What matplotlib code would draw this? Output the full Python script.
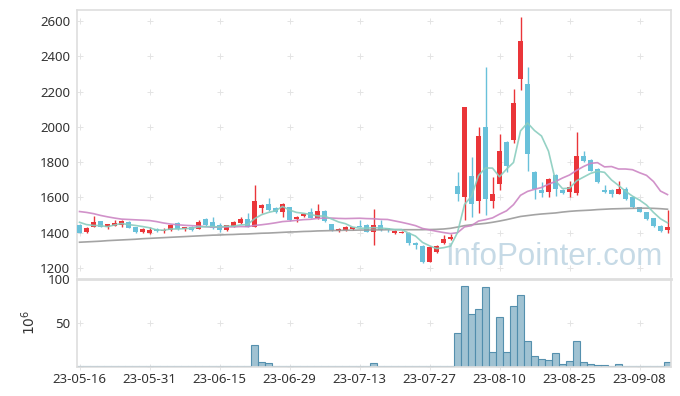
import matplotlib.pyplot as plt
import numpy as np

# x tick labels, one every 10 trading days
tick_labels = ["23-05-16", "23-05-31", "23-06-15", "23-06-29", "23-07-13",
               "23-07-27", "23-08-10", "23-08-25", "23-09-08"]

# daily OHLC (85 trading days)
opens = [1444, 1406, 1434, 1465, 1434, 1440, 1444, 1461, 1432, 1406,
         1398, 1419, 1410, 1413, 1453, 1421, 1432, 1423, 1478, 1461,
         1442, 1417, 1434, 1453, 1478, 1434, 1542, 1563, 1540, 1520,
         1544, 1480, 1495, 1517, 1485, 1523, 1449, 1408, 1413, 1421,
         1438, 1444, 1406, 1444, 1425, 1398, 1398, 1400, 1344, 1326,
         1236, 1289, 1340, 1364, 1662, 1601, 1722, 1582, 1998, 1577,
         1674, 1914, 1923, 2271, 2243, 1744, 1640, 1629, 1727, 1642,
         1630, 1627, 1835, 1812, 1760, 1644, 1642, 1622, 1650, 1605,
         1545, 1515, 1482, 1440, 1413]
highs = [1452, 1432, 1497, 1468, 1450, 1470, 1472, 1464, 1434, 1425,
         1432, 1425, 1425, 1446, 1458, 1434, 1436, 1472, 1482, 1489,
         1453, 1446, 1465, 1489, 1512, 1671, 1565, 1597, 1548, 1566,
         1548, 1495, 1510, 1540, 1563, 1527, 1452, 1426, 1438, 1434,
         1470, 1448, 1533, 1470, 1428, 1416, 1410, 1404, 1348, 1330,
         1322, 1330, 1386, 1390, 1746, 2111, 1831, 1998, 2341, 1715,
         1960, 1918, 2213, 2621, 2339, 1748, 1690, 1708, 1732, 1648,
         1693, 1968, 1862, 1815, 1764, 1670, 1646, 1693, 1660, 1610,
         1548, 1518, 1485, 1443, 1529]
lows = [1396, 1400, 1430, 1432, 1420, 1436, 1434, 1425, 1400, 1400,
        1395, 1404, 1400, 1410, 1415, 1412, 1412, 1420, 1440, 1420,
        1406, 1412, 1430, 1448, 1430, 1432, 1514, 1525, 1512, 1491,
        1468, 1459, 1490, 1482, 1480, 1462, 1408, 1404, 1410, 1418,
        1430, 1402, 1330, 1410, 1403, 1395, 1396, 1330, 1307, 1226,
        1232, 1285, 1336, 1356, 1577, 1472, 1491, 1510, 1500, 1538,
        1642, 1746, 1910, 2209, 1752, 1590, 1600, 1600, 1610, 1620,
        1600, 1615, 1800, 1748, 1680, 1625, 1605, 1618, 1585, 1542,
        1515, 1474, 1435, 1405, 1400]
closes = [1400, 1427, 1459, 1434, 1448, 1453, 1468, 1429, 1406, 1421,
          1418, 1408, 1418, 1442, 1419, 1430, 1415, 1461, 1444, 1427,
          1413, 1442, 1461, 1478, 1434, 1580, 1555, 1529, 1520, 1562,
          1472, 1491, 1506, 1485, 1523, 1465, 1413, 1421, 1432, 1430,
          1434, 1406, 1444, 1415, 1415, 1412, 1406, 1340, 1331, 1236,
          1317, 1326, 1364, 1377, 1622, 2111, 1561, 1948, 1591, 1620,
          1863, 1780, 2134, 2487, 1845, 1650, 1625, 1704, 1646, 1627,
          1659, 1835, 1806, 1752, 1686, 1630, 1620, 1650, 1590, 1547,
          1520, 1478, 1440, 1410, 1434]

# moving averages as drawn on the chart
ma5 = [1459, 1446, 1441, 1440, 1434, 1444, 1452, 1446, 1441, 1435,
       1428, 1416, 1414, 1421, 1421, 1423, 1425, 1433, 1434, 1435,
       1432, 1437, 1437, 1444, 1446, 1479, 1502, 1515, 1524, 1549,
       1528, 1515, 1510, 1503, 1495, 1494, 1478, 1461, 1451, 1432,
       1426, 1425, 1429, 1426, 1423, 1418, 1418, 1398, 1381, 1345,
       1326, 1310, 1315, 1324, 1401, 1560, 1607, 1724, 1767, 1766,
       1717, 1760, 1798, 1977, 2022, 1979, 1948, 1862, 1694, 1650,
       1652, 1694, 1715, 1736, 1748, 1742, 1699, 1668, 1635, 1607,
       1585, 1557, 1515, 1479, 1456]
ma20 = [1520, 1515, 1508, 1498, 1490, 1483, 1477, 1475, 1473, 1471,
        1469, 1463, 1455, 1449, 1445, 1442, 1440, 1438, 1434, 1431,
        1432, 1433, 1433, 1435, 1434, 1441, 1445, 1450, 1456, 1463,
        1466, 1470, 1474, 1476, 1481, 1483, 1483, 1481, 1480, 1481,
        1482, 1480, 1479, 1476, 1475, 1467, 1459, 1450, 1440, 1424,
        1416, 1408, 1401, 1395, 1400, 1433, 1440, 1466, 1474, 1484,
        1505, 1524, 1559, 1612, 1634, 1646, 1656, 1675, 1690, 1710,
        1727, 1753, 1775, 1793, 1797, 1773, 1775, 1761, 1761, 1757,
        1740, 1725, 1690, 1636, 1616]
ma60 = [1346, 1348, 1350, 1352, 1355, 1357, 1359, 1361, 1363, 1366,
        1368, 1370, 1372, 1374, 1376, 1378, 1380, 1382, 1384, 1386,
        1387, 1389, 1390, 1392, 1393, 1395, 1397, 1398, 1400, 1402,
        1404, 1405, 1407, 1408, 1410, 1411, 1412, 1413, 1414, 1414,
        1415, 1415, 1416, 1416, 1417, 1417, 1417, 1417, 1417, 1417,
        1418, 1419, 1421, 1425, 1432, 1440, 1445, 1449, 1453, 1459,
        1466, 1474, 1483, 1492, 1497, 1502, 1506, 1509, 1512, 1517,
        1521, 1524, 1526, 1528, 1531, 1533, 1535, 1536, 1537, 1538,
        1539, 1539, 1538, 1536, 1533]

# volume in millions
volumes = [0.3, 0.3, 0.3, 0.3, 0.3, 0.3, 0.3, 0.3, 0.3, 0.3,
           0.3, 0.3, 0.3, 0.3, 0.3, 0.3, 0.3, 0.8, 0.3, 0.8,
           0.3, 0.3, 0.3, 0.3, 0.8, 24.4, 5.2, 4.0, 0.8, 0.8,
           0.8, 0.3, 0.3, 0.3, 0.8, 0.3, 0.3, 0.3, 0.3, 0.3,
           0.3, 0.3, 4.0, 1.0, 0.3, 0.3, 0.3, 0.3, 0.3, 1.0,
           0.3, 0.3, 0.3, 1.0, 38.0, 91.7, 59.7, 65.4, 90.5, 16.4,
           56.3, 16.4, 68.9, 81.4, 29.0, 11.9, 8.4, 7.3, 15.2, 2.7,
           6.1, 29.0, 5.0, 2.7, 1.5, 1.5, 0.8, 2.7, 0.8, 0.8,
           0.8, 0.8, 0.8, 0.8, 5.0]

plt.rcParams["font.family"] = ["Noto Sans", "DejaVu Sans"]

RED = "#ea3539"
BLUE = "#69c1da"
SPINE = "#dedede"
TXT = "#333333"

fig = plt.figure(figsize=(6.8, 3.96), dpi=100)
ax = fig.add_axes([77 / 680, 1 - 277 / 396, 594 / 680, 267 / 396])
axv = fig.add_axes([77 / 680, 1 - 366.5 / 396, 594 / 680, 87.5 / 396])

x = np.arange(len(closes))
o = np.array(opens)
c = np.array(closes)
cols = np.where(c >= o, RED, BLUE)

ax.text(0.62, 0.045, "InfoPointer.com", transform=ax.transAxes,
        family="Liberation Sans", fontsize=22.5, color="#c6dae6",
        va="baseline", ha="left", zorder=0)

# light "+" grid marks
tick_pos = np.arange(0, len(closes), 10)
yt = np.arange(1200, 2601, 200)
gx, gy = np.meshgrid(tick_pos, yt)
ax.scatter(gx.ravel(), gy.ravel(), marker="+", s=14, color="#e4e4e4",
           linewidths=0.7, zorder=1)

ax.vlines(x, lows, highs, colors=cols, lw=1.0, zorder=2)
ax.bar(x, np.abs(c - o), bottom=np.minimum(o, c), width=0.68,
       color=cols, zorder=3)

ax.plot(x, ma60, color="#9a9a9a", lw=1.2, alpha=0.9, zorder=4)
ax.plot(x, ma20, color="#cc86c4", lw=1.2, alpha=0.9, zorder=4)
ax.plot(x, ma5, color="#8acdbf", lw=1.2, alpha=0.9, zorder=4)

ax.set_xlim(-0.36, 84.5)
ax.set_ylim(1149, 2662)
ax.set_yticks(yt)
ax.set_xticks(tick_pos)
ax.set_xticklabels([])
ax.tick_params(length=0, labelsize=9.5, labelcolor=TXT, pad=5)
for s in ax.spines.values():
    s.set_color(SPINE)
    s.set_linewidth(1.2)
ax.spines["bottom"].set_visible(False)

# volume panel
gx2, gy2 = np.meshgrid(tick_pos, [0, 50])
axv.scatter(gx2.ravel(), gy2.ravel(), marker="+", s=14, color="#e4e4e4",
            linewidths=0.7, zorder=1, clip_on=False)
axv.bar(x, volumes, width=1.0, color="#9bbfd0", edgecolor="#4f8cab",
        linewidth=0.8, alpha=0.95, zorder=2)
axv.set_xlim(-0.36, 84.5)
axv.set_ylim(0, 100)
axv.set_yticks([50, 100])
axv.set_xticks(tick_pos)
axv.set_xticklabels(tick_labels)
axv.tick_params(length=0, labelsize=9.5, labelcolor=TXT, pad=5)
axv.set_ylabel("$10^6$", fontsize=10, color=TXT, labelpad=6)
for s in axv.spines.values():
    s.set_color(SPINE)
    s.set_linewidth(1.2)
axv.spines["top"].set_linewidth(2)

fig.savefig("out.png", dpi=100)
